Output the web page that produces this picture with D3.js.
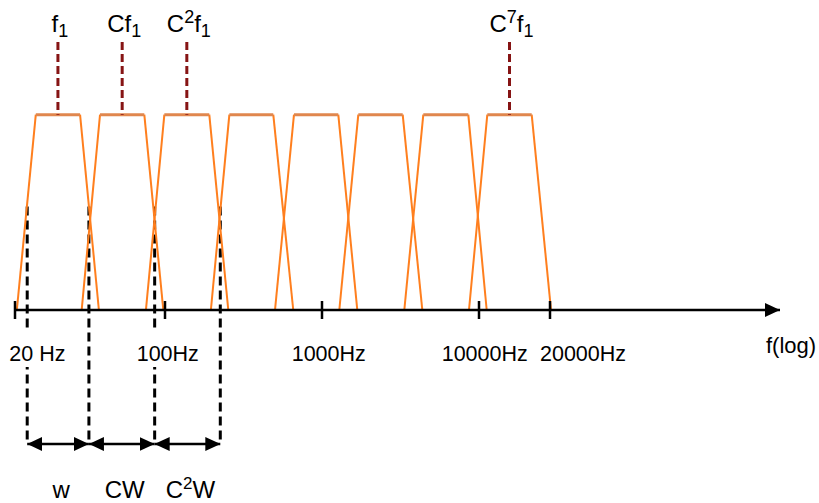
<!DOCTYPE html>
<html>
<head>
<meta charset="utf-8">
<script src="https://cdn.jsdelivr.net/npm/d3@7"></script>
<style>
  body { margin: 0; background: #fff; }
  svg { display: block; }
  text { font-family: "Liberation Sans", Arial, sans-serif; fill: #000; }
</style>
</head>
<body>
<svg id="chart" width="819" height="503"></svg>
<script>
// filter bank corners, Hz (bottom-left, top-left, top-right, bottom-right)
const bandStart    = [20.4, 40.9, 81.5, 196, 502, 1289, 3344, 8636];
const bandTopStart = [25, 49.8, 99.3, 257, 663, 1703, 4418, 10844];
const bandTopEnd   = [40.2, 80.1, 191.5, 489.5, 1270, 3266, 8548, 16727];
const bandEnd      = [49.2, 98.2, 253, 656, 1678, 4354, 10780, 20200];

const tickValues = [20, 100, 1000, 10000, 20000];
const tickLabels = ["20 Hz", "100Hz", "1000Hz", "10000Hz", "20000Hz"];

// centre frequency labels, which band they sit on
const labelBands = [0, 1, 2, 7];
const labelParts = [
    [["f", "n"], ["1", "sub"]],
    [["Cf", "n"], ["1", "sub"]],
    [["C", "n"], ["2", "sup"], ["f", "n"], ["1", "sub"]],
    [["C", "n"], ["7", "sup"], ["f", "n"], ["1", "sub"]]
];

// band widths shown under the axis
const edgeFreqs = [22.8, 44.2, 89.5, 225];
const widthParts = [
    [["w", "n"]],
    [["CW", "n"]],
    [["C", "n"], ["2", "sup"], ["W", "n"]]
];
const edgeLevel = 0.53; // amplitude where the black dashed lines start

var svg = d3.select('#chart');

// hand drawn log axis: piecewise log scale
const x = d3.scaleLog()
    .domain(tickValues)
    .range([15, 165, 322, 479, 550]);
const y = d3.scaleLinear().domain([0, 1]).range([310, 114.7]);

const axisY = y(0);
const arrowY = 444;

const defs = svg.append('defs');
defs.append('marker')
    .attr('id', 'head')
    .attr('markerUnits', 'userSpaceOnUse')
    .attr('viewBox', '0 0 15 14')
    .attr('refX', 15).attr('refY', 7)
    .attr('markerWidth', 15).attr('markerHeight', 14)
    .attr('orient', 'auto-start-reverse')
    .append('path').attr('d', 'M0,0 L15,7 L0,14 Z').attr('fill', '#000');

const rich = (sel, parts, big, small) => {
    let off = 0;
    parts.forEach(p => {
        let target = p[1] === 'sup' ? -9 : p[1] === 'sub' ? 5 : 0;
        sel.append('tspan')
            .attr('dy', target - off)
            .style('font-size', (p[1] === 'n' ? big : small) + 'px')
            .text(p[0]);
        off = target;
    });
};

// black dashed lines at band edges
svg.selectAll('.edge').data(edgeFreqs)
    .enter().append('line')
        .attr('x1', d => x(d)).attr('x2', d => x(d))
        .attr('y1', y(edgeLevel)).attr('y2', arrowY)
        .style('stroke', '#000')
        .style('stroke-width', 3)
        .style('stroke-dasharray', '9,5');

// tick labels with white boxes (they hide the dashed lines)
const tickDx = [-5.7, -28.3, -30.3, -37.3, -10];
tickValues.forEach((t, i) => {
    const g = svg.append('g');
    const txt = g.append('text')
        .attr('x', x(t) + tickDx[i])
        .attr('y', 361)
        .style('font-size', '21.5px')
        .text(tickLabels[i]);
    const bb = txt.node().getBBox();
    g.insert('rect', 'text')
        .attr('x', bb.x - 2).attr('y', 331)
        .attr('width', bb.width + 4).attr('height', 36)
        .attr('fill', '#fff');
});

// trapezoid bands
bandStart.forEach((d, i) => {
    svg.append('path')
        .attr('d', d3.line()([
            [x(bandStart[i]), y(0)], [x(bandTopStart[i]), y(1)]]))
        .style('stroke', '#ff7f1e').style('stroke-width', 2).style('fill', 'none');
    svg.append('path')
        .attr('d', d3.line()([
            [x(bandTopEnd[i]), y(1)], [x(bandEnd[i]), y(0)]]))
        .style('stroke', '#ff7f1e').style('stroke-width', 2).style('fill', 'none');
    svg.append('line')
        .attr('x1', x(bandTopStart[i])).attr('y1', y(1))
        .attr('x2', x(bandTopEnd[i])).attr('y2', y(1))
        .style('stroke', '#e0874e').style('stroke-width', 3);
});

// centre frequency markers + labels
labelBands.forEach((b, i) => {
    const cx = (x(bandTopStart[b]) + x(bandTopEnd[b])) / 2;
    svg.append('line')
        .attr('x1', cx).attr('x2', cx)
        .attr('y1', 42).attr('y2', y(1))
        .style('stroke', '#861414')
        .style('stroke-width', 3)
        .style('stroke-dasharray', '8,4');
    const t = svg.append('text')
        .attr('x', cx + 2).attr('y', 32)
        .attr('text-anchor', 'middle');
    rich(t, labelParts[i], 24, 18);
});

// x axis with arrow
svg.append('line')
    .attr('x1', x(20)).attr('x2', 780)
    .attr('y1', axisY).attr('y2', axisY)
    .style('stroke', '#000').style('stroke-width', 2.5)
    .attr('marker-end', 'url(#head)');
svg.selectAll('.tick').data(tickValues)
    .enter().append('line')
        .attr('x1', d => x(d)).attr('x2', d => x(d))
        .attr('y1', axisY - 9).attr('y2', axisY + 9)
        .style('stroke', '#000').style('stroke-width', 2.5);
svg.append('text')
    .attr('x', 766).attr('y', 353)
    .style('font-size', '22px')
    .text('f(log)');

// width arrows
for (let i = 0; i < edgeFreqs.length - 1; i++) {
    const x1 = x(edgeFreqs[i]), x2 = x(edgeFreqs[i + 1]);
    svg.append('line')
        .attr('x1', x1).attr('x2', x2)
        .attr('y1', arrowY).attr('y2', arrowY)
        .style('stroke', '#000').style('stroke-width', 2.5)
        .attr('marker-start', 'url(#head)')
        .attr('marker-end', 'url(#head)');
    const t = svg.append('text')
        .attr('x', (x1 + x2) / 2 + 3).attr('y', 498)
        .attr('text-anchor', 'middle');
    rich(t, widthParts[i], 24, 17);
}
</script>
</body>
</html>
